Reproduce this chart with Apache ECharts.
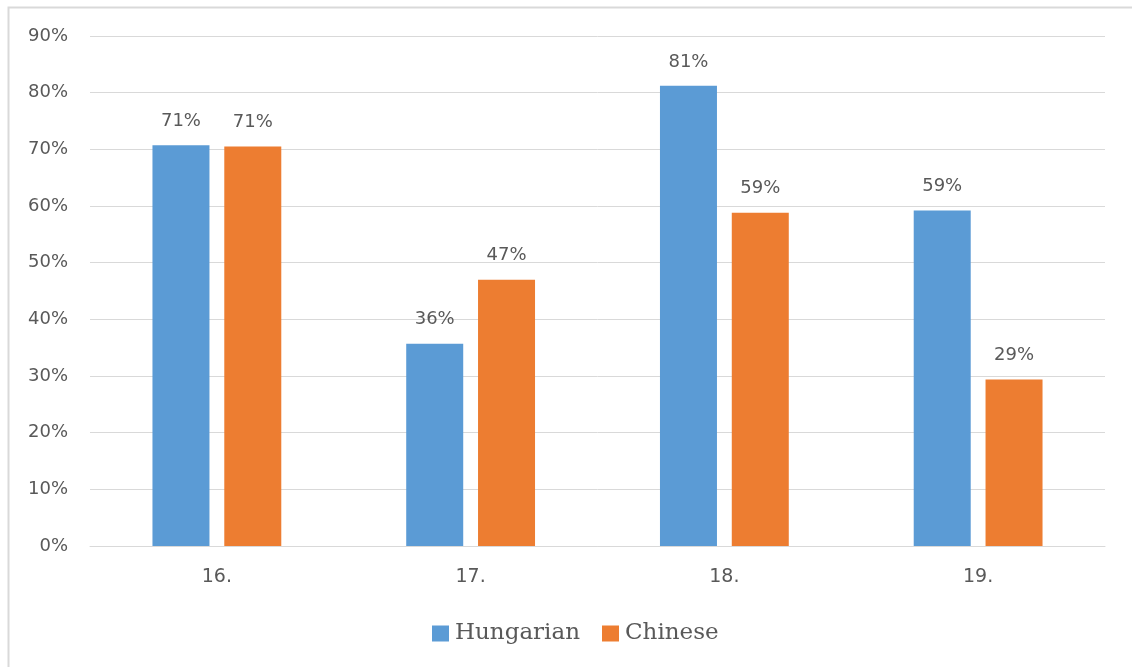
<!DOCTYPE html>
<html>
<head>
<meta charset="utf-8">
<script src="https://cdn.jsdelivr.net/npm/echarts@6/dist/echarts.min.js"></script>
<style>
  html, body { margin: 0; padding: 0; background: #fff; }
  #chart { width: 1132px; height: 667px; }
</style>
</head>
<body>
<div id="chart"></div>
<script>
// Question numbers along the x axis
const categories = ['16.', '17.', '18.', '19.'];
// Share of correct answers per group (fraction)
const hungarian = [0.707, 0.357, 0.812, 0.592];
const chinese = [0.705, 0.470, 0.588, 0.294];
const seriesNames = ['Hungarian', 'Chinese'];

const chart = echarts.init(document.getElementById('chart'), null, { renderer: 'canvas' });

const labelFont = '"DejaVu Sans", "Open Sans", sans-serif';
const textColor = '#595959';
const pct = v => Math.round(v * 100) + '%';

const barLabel = {
  show: true,
  position: 'top',
  distance: 15,
  color: textColor,
  fontFamily: labelFont,
  fontSize: 18,
  formatter: p => pct(p.value)
};

chart.setOption({
  animation: false,
  backgroundColor: '#fff',
  graphic: [{
    type: 'polyline',
    shape: { points: [[8.5, 700], [8.5, 7.5], [1140, 7.5]] },
    style: { stroke: '#d9d9d9', lineWidth: 2, fill: null }
  }],
  grid: { left: 90, right: 27, top: 36, bottom: 121, containLabel: false },
  legend: {
    top: 617,
    left: 427,
    itemWidth: 17,
    itemHeight: 16,
    itemGap: 22,
    icon: 'rect',
    textStyle: { fontFamily: '"DejaVu Serif", "Liberation Serif", serif', fontSize: 23, color: textColor, padding: [0, 0, 0, 1] },
    data: seriesNames
  },
  xAxis: {
    type: 'category',
    data: categories,
    axisLine: { lineStyle: { color: '#d9d9d9', width: 1 } },
    axisTick: { show: false },
    axisLabel: { color: textColor, fontFamily: labelFont, fontSize: 19, margin: 22 }
  },
  yAxis: {
    type: 'value',
    min: 0,
    max: 0.9,
    interval: 0.1,
    axisLine: { show: false },
    axisTick: { show: false },
    splitLine: { lineStyle: { color: '#d9d9d9', width: 1 } },
    axisLabel: { color: textColor, fontFamily: labelFont, fontSize: 18, margin: 22, formatter: v => pct(v) }
  },
  series: [
    {
      name: seriesNames[0], type: 'bar', data: hungarian,
      barWidth: 57, barGap: '26%',
      itemStyle: { color: '#5B9BD5' },
      label: barLabel
    },
    {
      name: seriesNames[1], type: 'bar', data: chinese,
      barWidth: 57,
      itemStyle: { color: '#ED7D31' },
      label: barLabel
    }
  ]
});
</script>
</body>
</html>
